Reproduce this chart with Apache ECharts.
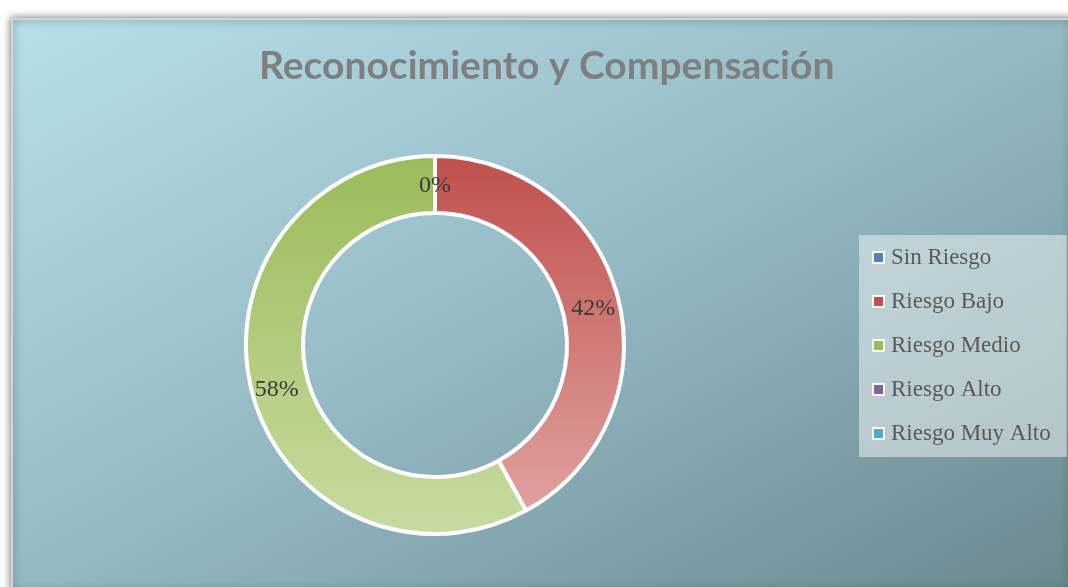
<!DOCTYPE html>
<html>
<head>
<meta charset="utf-8">
<script src="https://cdn.jsdelivr.net/npm/echarts@6/dist/echarts.min.js"></script>
<style>
  html, body { margin: 0; padding: 0; background: #ffffff; }
  #main { width: 1068px; height: 587px; }
</style>
</head>
<body>
<div id="main"></div>
<script>
// datos del gráfico
var categorias = ['Sin Riesgo', 'Riesgo Bajo', 'Riesgo Medio', 'Riesgo Alto', 'Riesgo Muy Alto'];
var valores = [0, 42, 58, 0, 0];
var colores = ['#4f81bd', '#c0504d', '#9bbb59', '#8064a2', '#4bacc6'];
var mostrarEtiqueta = [true, true, true, false, false];

// degradados verticales (arriba oscuro, abajo claro) como en Excel
function degradado(arriba, abajo) {
  return new echarts.graphic.LinearGradient(0, 155, 0, 535, [
    { offset: 0, color: arriba },
    { offset: 1, color: abajo }
  ], true);
}
var rellenos = [
  degradado('#4f81bd', '#95b3d7'),
  degradado('#c0504d', '#e2a7a5'),
  degradado('#9bbb59', '#c8dba1'),
  degradado('#8064a2', '#b3a2c7'),
  degradado('#4bacc6', '#92cddc')
];

var datos = [];
for (var i = 0; i < categorias.length; i++) {
  datos.push({
    name: categorias[i],
    value: valores[i],
    itemStyle: { color: rellenos[i] },
    label: { show: mostrarEtiqueta[i] }
  });
}

var chart = echarts.init(document.getElementById('main'));

var option = {
  animation: false,
  graphic: [{
    type: 'rect',
    z: -10,
    shape: { x: 12, y: 19, width: 1060, height: 572 },
    style: {
      // fondo en diagonal: esquinas opuestas (arriba-dcha / abajo-izq) con el mismo tono
      fill: new echarts.graphic.LinearGradient(12, 19, 490, 905, [
        { offset: 0, color: '#b7dfea' },
        { offset: 0.5, color: '#94b9c3' },
        { offset: 1, color: '#6b878e' }
      ], true),
      stroke: '#d4d4d4',
      lineWidth: 2,
      shadowBlur: 8,
      shadowColor: 'rgba(0,0,0,0.55)'
    }
  }],
  title: {
    text: 'Reconocimiento y Compensación',
    left: 254,
    top: 42,
    textStyle: {
      fontFamily: 'Lato',
      fontWeight: 'bold',
      fontSize: 39,
      color: '#7f7f7f'
    }
  },
  legend: {
    orient: 'vertical',
    left: 859,
    top: 235,
    padding: [11, 16, 12, 13],
    itemGap: 21,
    itemWidth: 11,
    itemHeight: 11,
    icon: 'rect',
    backgroundColor: 'rgba(235,240,242,0.55)',
    data: categorias.map(function (c, i) {
      return { name: c, itemStyle: { color: colores[i], borderColor: '#ffffff', borderWidth: 2 } };
    }),
    textStyle: {
      fontFamily: 'Liberation Serif',
      fontSize: 23,
      lineHeight: 22,
      color: '#595959',
      padding: [0, 0, 0, 2]
    }
  },
  series: [{
    type: 'pie',
    center: [435, 345],
    radius: [132, 189],
    startAngle: 90,
    clockwise: true,
    avoidLabelOverlap: false,
    itemStyle: { borderColor: '#ffffff', borderWidth: 4 },
    label: {
      position: 'inside',
      formatter: '{d}%',
      fontFamily: 'Liberation Serif',
      fontSize: 24,
      color: '#3a3a3a',
      offset: [0, 4]
    },
    labelLine: { show: false },
    emphasis: { disabled: true },
    data: datos
  }]
};

chart.setOption(option);
</script>
</body>
</html>
